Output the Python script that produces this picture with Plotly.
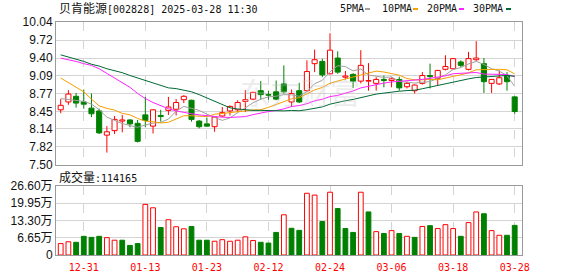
import plotly.graph_objects as go

# ---------------- data ----------------
dates = ["12-26", "12-27", "12-30", "12-31", "01-02", "01-03", "01-06", "01-07", "01-08", "01-09",
         "01-10", "01-13", "01-14", "01-15", "01-16", "01-17", "01-20", "01-21", "01-22", "01-23",
         "01-24", "01-27", "02-05", "02-06", "02-07", "02-10", "02-11", "02-12", "02-13", "02-14",
         "02-17", "02-18", "02-19", "02-20", "02-21", "02-24", "02-25", "02-26", "02-27", "02-28",
         "03-03", "03-04", "03-05", "03-06", "03-07", "03-10", "03-11", "03-12", "03-13", "03-14",
         "03-17", "03-18", "03-19", "03-20", "03-21", "03-24", "03-25", "03-26", "03-27", "03-28"]

opens = [8.48, 8.62, 8.72, 8.62, 8.51, 8.46, 8.03, 8.11, 8.28, 8.30,
         8.24, 8.39, 8.19, 8.38, 8.47, 8.49, 8.66, 8.65, 8.28, 8.23,
         8.18, 8.37, 8.46, 8.48, 8.63, 8.67, 8.82, 8.75, 8.80, 8.94,
         8.62, 8.82, 8.82, 9.30, 9.34, 9.12, 9.40, 9.06, 9.11, 8.99,
         8.99, 8.95, 9.02, 9.00, 9.02, 8.89, 8.82, 8.95, 9.09, 9.04,
         9.20, 9.21, 9.33, 9.20, 9.37, 9.30, 8.95, 8.94, 9.09, 8.71]
highs = [8.67, 8.83, 8.78, 8.84, 8.77, 8.50, 8.19, 8.37, 8.39, 8.31,
         8.30, 8.71, 8.49, 8.48, 8.71, 8.67, 8.74, 8.66, 8.30, 8.34,
         8.37, 8.53, 8.56, 8.65, 8.83, 8.80, 8.99, 8.82, 9.00, 9.27,
         8.84, 8.96, 9.36, 9.55, 9.39, 9.84, 9.52, 9.17, 9.13, 9.54,
         9.31, 9.06, 9.09, 9.05, 9.07, 8.98, 8.93, 9.15, 9.30, 9.19,
         9.45, 9.40, 9.36, 9.51, 9.70, 9.40, 9.03, 9.18, 9.15, 8.72]
lows = [8.42, 8.57, 8.52, 8.50, 8.35, 8.05, 7.72, 8.05, 8.08, 8.17,
        7.90, 8.17, 8.06, 8.27, 8.39, 8.38, 8.60, 8.27, 8.15, 8.18,
        8.09, 8.36, 8.38, 8.44, 8.44, 8.65, 8.66, 8.66, 8.65, 8.77,
        8.53, 8.60, 8.80, 9.15, 9.06, 9.11, 9.12, 9.02, 8.87, 8.95,
        8.82, 8.82, 8.88, 8.88, 8.82, 8.86, 8.77, 8.93, 8.86, 8.92,
        9.18, 9.20, 9.24, 9.18, 9.35, 8.78, 8.78, 8.92, 8.82, 8.41]
closes = [8.56, 8.76, 8.60, 8.58, 8.41, 8.07, 8.09, 8.31, 8.30, 8.23,
          7.92, 8.29, 8.48, 8.36, 8.53, 8.61, 8.72, 8.31, 8.18, 8.19,
          8.35, 8.43, 8.54, 8.61, 8.66, 8.79, 8.75, 8.74, 8.67, 8.80,
          8.77, 8.62, 9.16, 9.37, 9.10, 9.54, 9.15, 9.08, 8.99, 9.27,
          9.00, 9.02, 9.00, 9.03, 8.87, 8.95, 8.92, 9.09, 9.07, 9.18,
          9.25, 9.39, 9.27, 9.39, 9.40, 8.98, 9.02, 9.05, 8.98, 8.45]

# volume in 万 shares
volumes = [4.4, 5.1, 4.9, 7.2, 6.8, 7.2, 6.7, 5.7, 5.7, 3.7,
           4.4, 19.5, 18.2, 10.6, 13.6, 10.9, 10.1, 11.0, 5.7, 5.7,
           5.3, 5.9, 5.3, 5.7, 7.0, 5.6, 4.9, 4.6, 8.7, 15.5,
           10.3, 9.5, 23.8, 23.1, 12.9, 24.2, 17.9, 10.2, 8.7, 24.2,
           16.6, 9.0, 8.3, 9.4, 8.3, 7.2, 6.8, 11.0, 11.3, 10.2,
           11.7, 10.2, 7.2, 12.5, 16.6, 15.9, 9.4, 7.6, 7.6, 11.4165]
# 1 = red (up) volume bar, 0 = green (down) volume bar
volume_up = [1, 1, 0, 0, 0, 0, 1, 1, 0, 0,
             0, 1, 1, 0, 1, 1, 1, 0, 0, 0,
             1, 1, 1, 1, 1, 1, 0, 0, 0, 1,
             0, 0, 1, 1, 0, 1, 0, 0, 0, 1,
             0, 1, 0, 1, 0, 1, 0, 1, 0, 1,
             1, 1, 0, 1, 1, 0, 1, 1, 0, 0]

# moving-average values before a full window is visible
ma5_head = [8.68, 8.66, 8.65, 8.63]
ma10_head = [9.045, 8.963, 8.886, 8.80, 8.67, 8.55, 8.505, 8.475, 8.417]
ma20_head = [9.398, 9.375, 9.34, 9.30, 9.27, 9.21, 9.128, 9.045, 8.963, 8.88,
             8.77, 8.68, 8.61, 8.55, 8.50, 8.46, 8.43, 8.41, 8.39]
ma30_head = [9.457, 9.42, 9.375, 9.34, 9.29, 9.257, 9.21, 9.175, 9.14, 9.09,
             9.045, 9.01, 8.964, 8.916, 8.87, 8.857, 8.833, 8.80, 8.75, 8.69,
             8.634, 8.575, 8.516, 8.494, 8.476, 8.47, 8.47, 8.464, 8.464]

tick_dates = ["12-31", "01-13", "01-23", "02-12", "02-24", "03-06", "03-18", "03-28"]
price_ticks = [7.50, 7.82, 8.14, 8.45, 8.77, 9.09, 9.40, 9.72, 10.04]
vol_ticks = [0, 6.65, 13.30, 19.95, 26.60]
vol_tick_text = ["0", "6.65万", "13.30万", "19.95万", "26.60万"]

title_name = "贝肯能源"
title_rest = "[002828] 2025-03-28 11:30"
vol_label = "成交量"
last_volume = "114165"
ma_names = ["5PMA", "10PMA", "20PMA", "30PMA"]

# ---------------- styles ----------------
RED = "#ff0000"
GREEN = "#008000"
MA_COLORS = ["#a0a0a0", "#f5a000", "#ff22ff", "#006a35"]
GRID = "#d4d4d4"
FRAME = "#9a9a9a"


def moving_average(n, head):
    out = list(head)
    for i in range(n - 1, len(closes)):
        out.append(sum(closes[i - n + 1:i + 1]) / n)
    return out


ma_series = [moving_average(5, ma5_head), moving_average(10, ma10_head),
             moving_average(20, ma20_head), moving_average(30, ma30_head)]

fig = go.Figure()

# wicks (split above/below the body so hollow bodies stay hollow)
for up, col in ((True, RED), (False, GREEN)):
    xs, ys = [], []
    for d, o, h, l, c in zip(dates, opens, highs, lows, closes):
        if (c >= o) != up:
            continue
        top, bot = max(o, c), min(o, c)
        xs += [d, d, None, d, d, None]
        ys += [h, top, None, bot, l, None]
    fig.add_trace(go.Scatter(x=xs, y=ys, mode="lines", line=dict(color=col, width=1),
                             hoverinfo="skip", xaxis="x", yaxis="y"))

# bodies
bases, heights, fills, edges = [], [], [], []
for o, c in zip(opens, closes):
    bot = min(o, c)
    bases.append(bot)
    heights.append(max(abs(c - o), 0.004))
    if c >= o:
        fills.append("white")
        edges.append(RED)
    else:
        fills.append(GREEN)
        edges.append(GREEN)
fig.add_trace(go.Bar(x=dates, y=heights, base=bases, width=0.66,
                     marker=dict(color=fills, line=dict(color=edges, width=1)),
                     xaxis="x", yaxis="y"))

# moving averages
for vals, col in zip(ma_series, MA_COLORS):
    fig.add_trace(go.Scatter(x=dates, y=vals, mode="lines", line=dict(color=col, width=1),
                             xaxis="x", yaxis="y"))

# volume
vfill = ["white" if u else GREEN for u in volume_up]
vedge = [RED if u else GREEN for u in volume_up]
fig.add_trace(go.Bar(x=dates, y=volumes, width=0.62,
                     marker=dict(color=vfill, line=dict(color=vedge, width=1)),
                     xaxis="x2", yaxis="y2"))

L, R, T, B = 56, 56, 22, 21
W, H = 578, 276
PW, PH = W - L - R, H - T - B


def px(xp):
    return (xp - L) / PW


def py(yp):
    return (H - B - yp) / PH


price_dom = [py(165), 1]
vol_dom = [0, py(186)]

axis_common = dict(showline=True, mirror=True, linecolor=FRAME, linewidth=1, zeroline=False)

fig.update_layout(
    width=W, height=H, margin=dict(l=L, r=R, t=T, b=B),
    template="none", paper_bgcolor="white", plot_bgcolor="white",
    showlegend=False, barmode="overlay",
    xaxis=dict(domain=[0, 1], anchor="y", type="category", categoryorder="array",
               categoryarray=dates, range=[-0.61, 59.95], tickvals=tick_dates,
               showticklabels=False, ticks="", showgrid=True, gridcolor=GRID,
               griddash="dash", gridwidth=1, **axis_common),
    yaxis=dict(domain=price_dom, range=[7.4995, 10.0405], tickvals=price_ticks,
               ticktext=[f"{v:.2f}" for v in price_ticks], showgrid=True, gridcolor=GRID,
               gridwidth=1, ticks="", tickfont=dict(family="Liberation Sans, Arial", size=12, color="#111"),
               **axis_common),
    xaxis2=dict(domain=[0, 1], anchor="y2", type="category", categoryorder="array",
                categoryarray=dates, matches="x", tickvals=tick_dates, ticktext=tick_dates,
                showgrid=True, gridcolor=GRID, griddash="dash", gridwidth=1,
                ticks="outside", ticklen=3, tickcolor="rgba(0,0,0,0)",
                tickfont=dict(family="DejaVu Sans Mono", size=10, color=RED), **axis_common),
    yaxis2=dict(domain=vol_dom, range=[0, 26.6], tickvals=vol_ticks, ticktext=vol_tick_text,
                showgrid=True, gridcolor=GRID, gridwidth=1, ticks="",
                tickfont=dict(family="Liberation Sans, Noto Sans CJK SC", size=12, color="#111"),
                **axis_common),
)

mono = "DejaVu Sans Mono, Noto Sans CJK SC"
annotations = [
    # watermark
    dict(x=px(300), y=py(91), xref="paper", yref="paper", text="东方财富", showarrow=False,
         font=dict(family="Noto Sans CJK SC", size=30, color="rgba(190,190,190,0.28)"),
         xanchor="center", yanchor="middle"),
    dict(x=px(57), y=py(8.5), xref="paper", yref="paper",
         text=f'<span style="font-size:12px">{title_name}</span>{title_rest}',
         showarrow=False, font=dict(family=mono, size=10, color="#111"),
         xanchor="left", yanchor="middle"),
    dict(x=px(57), y=py(177.5), xref="paper", yref="paper",
         text=f'<span style="font-size:12px">{vol_label}</span>:{last_volume}',
         showarrow=False, font=dict(family=mono, size=10, color="#111"),
         xanchor="left", yanchor="middle"),
]
legend_x = [338, 380, 425, 471]
dash_x = [365, 413, 459, 506]
shapes = []
for name, lx, dx, col in zip(ma_names, legend_x, dash_x, MA_COLORS):
    annotations.append(dict(x=px(lx), y=py(8.5), xref="paper", yref="paper", text=name,
                            showarrow=False, font=dict(family=mono, size=10, color="#111"),
                            xanchor="left", yanchor="middle"))
    shapes.append(dict(type="rect", xref="paper", yref="paper", x0=px(dx), x1=px(dx + 5),
                       y0=py(10), y1=py(8), fillcolor=col, line=dict(width=0)))
fig.update_layout(annotations=annotations, shapes=shapes)

fig.write_html("out.html", config={"displayModeBar": False})
